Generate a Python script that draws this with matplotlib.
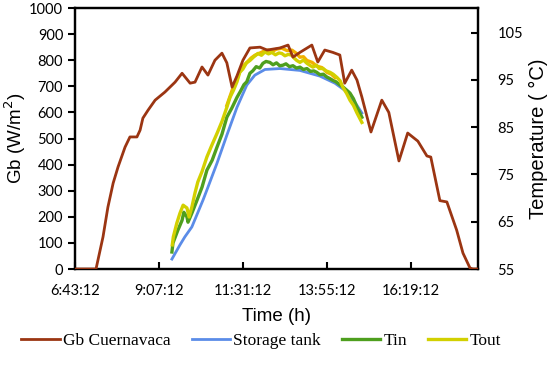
import matplotlib
matplotlib.use("Agg")
import matplotlib.pyplot as plt

# time in hours of the day
gb_time = [6.72, 7.32, 7.52, 7.66, 7.81, 7.95, 8.15, 8.29, 8.49, 8.58, 8.66, 8.81,
           9.01, 9.29, 9.58, 9.78, 10.01, 10.15, 10.35, 10.52, 10.72, 10.92, 11.06,
           11.21, 11.35, 11.52, 11.72, 12.01, 12.21, 12.58, 12.81, 12.95, 13.15,
           13.49, 13.66, 13.86, 14.09, 14.29, 14.43, 14.63, 14.78, 14.92, 15.18,
           15.49, 15.69, 15.98, 16.23, 16.52, 16.78, 16.89, 17.15, 17.35, 17.63,
           17.81, 18.01, 18.09, 18.24]
gb_values = [0, 0, 123, 237, 329, 391, 467, 506, 506, 532, 578, 609,
             647, 678, 716, 750, 712, 716, 774, 743, 800, 827, 790,
             697, 740, 800, 847, 850, 839, 847, 858, 812, 830,
             858, 793, 839, 830, 820, 712, 762, 724, 659, 525,
             647, 600, 414, 521, 490, 433, 429, 262, 257, 149,
             61, 4, 0, 0]

tank_time = [9.49, 9.72, 9.86, 10.06, 10.38, 10.52, 10.78, 11.06, 11.35, 11.63,
             11.86, 12.15, 12.58, 13.15, 13.72, 14.15, 14.43, 14.72, 14.92]
tank_temp = [57.1, 60.1, 61.8, 63.9, 69.6, 72.3, 77.4, 83.3, 89.2, 93.9,
             96.0, 97.2, 97.4, 97.0, 95.8, 94.3, 92.8, 90.3, 88.0]

tin_time = [9.49, 9.52, 9.66, 9.78, 9.83, 9.92, 9.95, 10.06, 10.21, 10.35, 10.49,
            10.64, 10.78, 10.92, 11.06, 11.20, 11.35, 11.45, 11.55, 11.63, 11.72,
            11.80, 11.90, 12.00, 12.09, 12.18, 12.29, 12.38, 12.48, 12.57, 12.66,
            12.75, 12.85, 12.95, 13.05, 13.15, 13.25, 13.35, 13.45, 13.55, 13.63,
            13.72, 13.82, 13.92, 14.00, 14.09, 14.18, 14.28, 14.38, 14.49, 14.58,
            14.68, 14.78, 14.85, 14.92]
tin_temp = [58.6, 60.5, 63.2, 65.3, 67.0, 66.0, 64.9, 66.8, 69.6, 72.3, 75.9,
            78.0, 80.8, 83.5, 87.1, 89.0, 91.3, 92.6, 94.0, 94.6, 96.4,
            96.9, 97.8, 97.5, 98.5, 98.9, 98.7, 98.2, 98.6, 98.0, 98.1,
            98.4, 97.8, 98.0, 97.5, 97.7, 97.2, 97.4, 96.8, 96.9, 96.6,
            96.1, 96.2, 95.6, 95.3, 94.9, 94.6, 94.0, 93.5, 92.8, 92.2,
            91.0, 89.2, 88.2, 87.1]

tout_time = [9.50, 9.53, 9.63, 9.72, 9.81, 9.92, 9.98, 10.06, 10.15, 10.23, 10.35,
             10.49, 10.62, 10.78, 10.92, 11.06, 11.15, 11.25, 11.35, 11.43, 11.52,
             11.62, 11.72, 11.82, 11.95, 12.05, 12.15, 12.25, 12.35, 12.45, 12.55,
             12.63, 12.72, 12.82, 12.92, 13.00, 13.06, 13.15, 13.25, 13.35, 13.45,
             13.52, 13.62, 13.70, 13.81, 13.90, 14.01, 14.10, 14.21, 14.30, 14.38,
             14.48, 14.58, 14.68, 14.78, 14.85, 14.92]
tout_temp = [60.1, 61.8, 64.7, 66.8, 68.5, 67.9, 66.0, 68.1, 71.1, 73.4, 75.6,
             78.7, 81.0, 83.7, 86.2, 89.2, 91.3, 92.8, 94.6, 96.6, 97.3,
             98.6, 99.1, 99.8, 100.6, 100.2, 100.9, 100.5, 100.8, 100.3, 100.7,
             100.6, 100.1, 100.4, 100.2, 99.5, 99.1, 98.7, 99.2, 98.5, 98.0,
             97.7, 98.1, 97.4, 97.4, 96.9, 96.6, 96.2, 95.5, 94.8, 93.4,
             92.2, 90.7, 89.6, 88.0, 87.0, 86.0]

# second outlet trace drawn in orange, not in the legend
tout2_time = [11.06, 11.23, 11.35, 11.49, 11.62, 11.75, 11.86, 11.98, 12.10, 12.23,
              12.35, 12.48, 12.63, 12.78, 12.92, 13.05, 13.15, 13.25, 13.35, 13.50,
              13.63, 13.78, 13.92, 14.05, 14.15]
tout2_temp = [89.6, 93.2, 95.4, 97.7, 98.6, 99.6, 100.2, 100.6, 101.0, 101.3,
              101.0, 101.5, 101.7, 101.2, 101.3, 100.6, 99.8, 99.9, 99.1, 98.7,
              97.9, 97.6, 96.6, 96.2, 95.5]

x_ticks = [6.72, 9.12, 11.52, 13.92, 16.32]
x_tick_labels = ['6:43:12', '9:07:12', '11:31:12', '13:55:12', '16:19:12']

fig = plt.figure(figsize=(5.5, 3.82), dpi=100)
ax = fig.add_axes([0.1364, 0.2958, 0.7327, 0.6832])
ax2 = ax.twinx()

l1, = ax.plot(gb_time, gb_values, color='#9B3512', lw=2, label='Gb Cuernavaca', zorder=5)
ax.set_zorder(ax2.get_zorder() + 1)
ax.patch.set_visible(False)

l2, = ax2.plot(tank_time, tank_temp, color='#5B8CE8', lw=2, label='Storage tank')
l3, = ax2.plot(tin_time, tin_temp, color='#4E9F1E', lw=2.4, label='Tin')
ax2.plot(tout2_time, tout2_temp, color='#F2B000', lw=2.4)
l4, = ax2.plot(tout_time, tout_temp, color='#D2D000', lw=2.4, label='Tout')

ax.set_xlim(6.72, 18.24)
ax.set_ylim(0, 1000)
ax2.set_ylim(55, 110.2)
ax.set_xticks(x_ticks)
ax.set_xticklabels(x_tick_labels)
ax.set_yticks(range(0, 1001, 100))
ax2.set_yticks(range(55, 106, 10))

tick_font = 'Lato'
for lab in ax.get_xticklabels() + ax.get_yticklabels() + ax2.get_yticklabels():
    lab.set_fontfamily(tick_font)
    lab.set_fontsize(10.5)

ax.tick_params(axis='y', direction='out', length=5, width=1.5)
ax.tick_params(axis='x', direction='in', length=5, width=1.5, pad=11)
ax2.tick_params(axis='y', direction='in', length=5, width=1.5, pad=14)

for a in (ax, ax2):
    for s in a.spines.values():
        s.set_linewidth(1.6)
        s.set_color('black')

ax.set_ylabel('Gb (W/m$^2$)', fontsize=13.5, family='Liberation Sans', labelpad=1)
ax2.set_ylabel('Temperature ( °C)', fontsize=14.5, family='Liberation Sans', labelpad=4)
ax.set_xlabel('Time (h)', fontsize=13.5, family='Liberation Sans', labelpad=7)

fig.legend(handles=[l1, l2, l3, l4], loc='center', bbox_to_anchor=(0.475, 0.108),
           ncol=4, frameon=False, prop={'family': 'Liberation Serif', 'size': 12.5},
           handlelength=2.2, handletextpad=0.2, columnspacing=1.2)

fig.savefig('out.png', dpi=100)
